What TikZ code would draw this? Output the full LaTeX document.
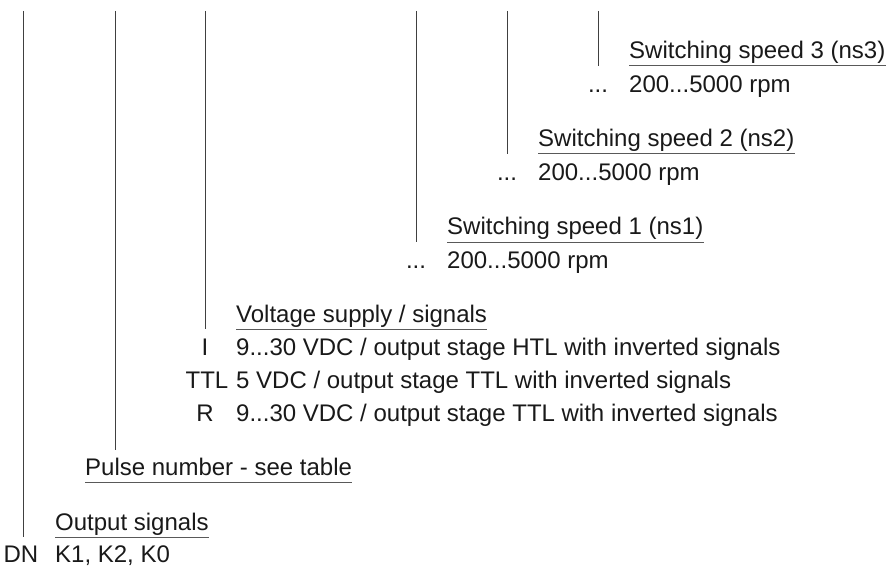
\documentclass[tikz,border=0pt]{standalone}
\usepackage{fontspec}
\setmainfont{Liberation Sans}
\begin{document}
\begin{tikzpicture}[x=1pt,y=-1pt,
  font=\fontsize{24}{28}\selectfont,
  txt/.style={anchor=base west, inner sep=0pt, text=black!90},
  key/.style={anchor=base, inner sep=0pt, text=black!90},
  vline/.style={line width=1pt, draw=black!75},
  uline/.style={line width=1pt, draw=black!65}]
\useasboundingbox (0,0) rectangle (887,567);

% tops of the vertical lines
\coordinate (t0) at (23,11);
\coordinate (t1) at (115,11);
\coordinate (t2) at (205,11);
\coordinate (t3) at (416,11);
\coordinate (t4) at (507,11);
\coordinate (t5) at (598,11);

% Switching speed 3
\node[txt] (h5) at (629,59) {Switching speed 3 (ns3)};
\node[txt] (v5) at (629,92.5) {200...5000 rpm};
\node[key] (k5) at (598,92.5) {...};
% Switching speed 2
\node[txt] (h4) at (538,147) {Switching speed 2 (ns2)};
\node[txt] (v4) at (538,180.5) {200...5000 rpm};
\node[key] (k4) at (507,180.5) {...};
% Switching speed 1
\node[txt] (h3) at (447,235) {Switching speed 1 (ns1)};
\node[txt] (v3) at (447,268.5) {200...5000 rpm};
\node[key] (k3) at (416,268.5) {...};
% Voltage supply
\node[txt] (h2) at (236,322) {Voltage supply / signals};
\node[txt] (v2a) at (236,355.5) {9...30 VDC / output stage HTL with inverted signals};
\node[txt] (v2b) at (236,388.5) {5 VDC / output stage TTL with inverted signals};
\node[txt] (v2c) at (236,421) {9...30 VDC / output stage TTL with inverted signals};
\node[key] (k2a) at (205,355.5) {I};
\node[key] (k2b) at (207,388.5) {TTL};
\node[key] (k2c) at (205,421) {R};
% Pulse number
\node[txt] (h1) at (85,475) {Pulse number - see table};
\coordinate (e1) at (115,450);
% Output signals
\node[txt] (h0) at (55,530) {Output signals};
\node[txt] (v0) at (55,562.5) {K1, K2, K0};
\node[key] (k0) at (21,562.5) {DN};

% underlines
\foreach \n in {h0,h1,h2,h3,h4,h5}{
  \coordinate (\n-ul) at ([yshift=-7pt]\n.base west);
  \coordinate (\n-ur) at ([yshift=-7pt]\n.base east);
  \draw[uline] (\n-ul) -- (\n-ur);
}

% vertical lines
\draw[vline] (t5) -- (t5 |- h5-ul);
\draw[vline] (t4) -- (t4 |- h4-ul);
\draw[vline] (t3) -- (t3 |- h3-ul);
\draw[vline] (t2) -- (t2 |- h2-ul);
\draw[vline] (t1) -- (e1);
\draw[vline] (t0) -- (t0 |- h0-ul);
\end{tikzpicture}
\end{document}
